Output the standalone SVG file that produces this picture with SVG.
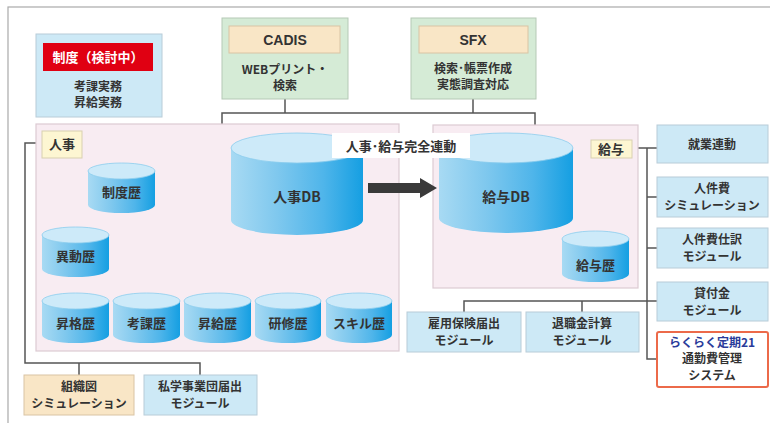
<svg xmlns="http://www.w3.org/2000/svg" width="770" height="423" viewBox="0 0 770 423">
<defs>
<linearGradient id="cyl" x1="0" y1="0" x2="1" y2="0">
<stop offset="0" stop-color="#a8daf3"/>
<stop offset="0.35" stop-color="#7fc8ee"/>
<stop offset="0.7" stop-color="#4fb5ea"/>
<stop offset="1" stop-color="#159fe2"/>
</linearGradient>
<style>
text{font-family:"Noto Sans CJK JP","Noto Sans",sans-serif;font-weight:bold;fill:#333;text-anchor:middle;font-size:12px}
.blue{fill:#cde9f6;stroke:#b8ccd8;stroke-width:1}
.green{fill:#d5ebd6;stroke:#b5c9b6;stroke-width:1}
.orange{fill:#f9e6c6;stroke:#d9c4a4;stroke-width:1}
.frame{fill:#f8ecf2;stroke:#dccbd3;stroke-width:1.2}
.lbl{fill:#fdf6d2;stroke:#d8d0b0;stroke-width:1}
.body{fill:url(#cyl)}
.top{fill:#cdeaf9;stroke:#8ccdee;stroke-width:0.8}
.ln{fill:none;stroke:#555;stroke-width:1.5}
</style>
</defs>
<rect x="8" y="7" width="780" height="430" fill="#fff" stroke="#aaa" stroke-width="1.2"/>

<g id="connectors">
<path class="ln" d="M285,99 V113 M473,99 V113 M222,124 V113 H535 V125"/>
<path class="ln" d="M42,143 H25 V363 H200 V375 M79,363 V375"/>
<path class="ln" d="M632,148 H657 M647,148 V359 H657 M647,197 H657 M647,248 H657 M464,312 V301 H657 M582,301 V312"/>
</g>

<g id="seido">
<rect class="blue" x="36" y="34" width="126" height="83"/>
<rect x="43" y="43" width="110" height="28" fill="#e00012"/>
<text x="98" y="62" style="fill:#fff;font-size:13px">制度（検討中）</text>
<text x="98" y="91">考課実務</text>
<text x="98" y="107">昇給実務</text>
</g>

<g id="cadis">
<rect class="green" x="222" y="18" width="126" height="81"/>
<rect class="orange" x="229" y="26" width="111" height="27"/>
<text x="285" y="45" style="font-family:'Liberation Sans',sans-serif;font-size:14px">CADIS</text>
<text x="285" y="74">WEBプリント・</text>
<text x="285" y="90">検索</text>
</g>

<g id="sfx">
<rect class="green" x="411" y="18" width="125" height="81"/>
<rect class="orange" x="419" y="26" width="109" height="27"/>
<text x="473" y="45" style="font-family:'Liberation Sans',sans-serif;font-size:14px">SFX</text>
<text x="473" y="73">検索･帳票作成</text>
<text x="473" y="89">実態調査対応</text>
</g>

<g id="jinji">
<rect class="frame" x="36" y="124" width="363" height="227"/>
<rect class="lbl" x="42" y="131" width="40" height="27"/>
<text x="62" y="149" style="font-size:13px">人事</text>
</g>

<g id="kyuyo">
<rect class="frame" x="433" y="125" width="205" height="163"/>
<rect class="lbl" x="591" y="140" width="41" height="18"/>
<text x="611" y="154" style="font-size:13px">給与</text>
</g>

<g id="jinjidb">
<path class="body" d="M231,148 V220 A66,15 0 0 0 363,220 V148 Z"/>
<ellipse class="top" cx="297" cy="148" rx="66" ry="15"/>
<text x="297" y="202" style="font-size:14px">人事DB</text>
</g>

<g id="kyuyodb">
<path class="body" d="M439,148 V218 A67,15 0 0 0 573,218 V148 Z"/>
<ellipse class="top" cx="506" cy="148" rx="67" ry="15"/>
<text x="506" y="202" style="font-size:14px">給与DB</text>
</g>

<g id="arrow">
<path d="M368,183 H420 V178 L437,188 L420,198 V193 H368 Z" fill="#3a3a3a"/>
</g>

<g id="renkei">
<rect x="332" y="133" width="138" height="25" fill="#fff"/>
<text x="401" y="151" style="font-size:13px">人事･給与完全連動</text>
</g>

<g id="seidoreki">
<path class="body" d="M88,171 V205 A33.5,8 0 0 0 155,205 V171 Z"/>
<ellipse class="top" cx="121.5" cy="171" rx="33.5" ry="8"/>
<text x="121.5" y="197" style="font-size:13px">制度歴</text>
</g>
<g id="idoreki">
<path class="body" d="M42,235 V269 A33.5,8 0 0 0 109,269 V235 Z"/>
<ellipse class="top" cx="75.5" cy="235" rx="33.5" ry="8"/>
<text x="75.5" y="261" style="font-size:13px">異動歴</text>
</g>
<g id="shokakureki">
<path class="body" d="M42,301 V335 A33.5,8 0 0 0 109,335 V301 Z"/>
<ellipse class="top" cx="75.5" cy="301" rx="33.5" ry="8"/>
<text x="75.5" y="328" style="font-size:13px">昇格歴</text>
</g>
<g id="kokareki">
<path class="body" d="M113,301 V335 A33.5,8 0 0 0 180,335 V301 Z"/>
<ellipse class="top" cx="146.5" cy="301" rx="33.5" ry="8"/>
<text x="146.5" y="328" style="font-size:13px">考課歴</text>
</g>
<g id="shokyureki">
<path class="body" d="M184,301 V335 A33.5,8 0 0 0 251,335 V301 Z"/>
<ellipse class="top" cx="217.5" cy="301" rx="33.5" ry="8"/>
<text x="217.5" y="328" style="font-size:13px">昇給歴</text>
</g>
<g id="kenshureki">
<path class="body" d="M255,301 V335 A33,8 0 0 0 321,335 V301 Z"/>
<ellipse class="top" cx="288" cy="301" rx="33" ry="8"/>
<text x="288" y="328" style="font-size:13px">研修歴</text>
</g>
<g id="skillreki">
<path class="body" d="M326,301 V335 A33,8 0 0 0 392,335 V301 Z"/>
<ellipse class="top" cx="359" cy="301" rx="33" ry="8"/>
<text x="359" y="328" style="font-size:13px">スキル歴</text>
</g>
<g id="kyuyoreki">
<path class="body" d="M562,239 V274 A33.5,8 0 0 0 629,274 V239 Z"/>
<ellipse class="top" cx="595.5" cy="239" rx="33.5" ry="8"/>
<text x="595.5" y="270" style="font-size:13px">給与歴</text>
</g>

<g id="soshikizu">
<rect class="orange" x="24" y="375" width="110" height="40"/>
<text x="79" y="391">組織図</text>
<text x="79" y="408">シミュレーション</text>
</g>
<g id="shigaku">
<rect class="blue" x="144" y="375" width="113" height="40"/>
<text x="200" y="391">私学事業団届出</text>
<text x="200" y="408">モジュール</text>
</g>
<g id="koyo">
<rect class="blue" x="407" y="312" width="114" height="40"/>
<text x="464" y="328">雇用保険届出</text>
<text x="464" y="345">モジュール</text>
</g>
<g id="taishoku">
<rect class="blue" x="526" y="312" width="113" height="40"/>
<text x="582" y="328">退職金計算</text>
<text x="582" y="345">モジュール</text>
</g>
<g id="shugyo">
<rect class="blue" x="657" y="125" width="111" height="38"/>
<text x="712" y="149">就業連動</text>
</g>
<g id="jinkenhi">
<rect class="blue" x="657" y="177" width="111" height="40"/>
<text x="712" y="193">人件費</text>
<text x="712" y="210">シミュレーション</text>
</g>
<g id="shiwake">
<rect class="blue" x="657" y="228" width="111" height="40"/>
<text x="712" y="244">人件費仕訳</text>
<text x="712" y="261">モジュール</text>
</g>
<g id="kashitsuke">
<rect class="blue" x="657" y="282" width="111" height="39"/>
<text x="712" y="298">貸付金</text>
<text x="712" y="315">モジュール</text>
</g>
<g id="rakuraku">
<rect x="657" y="332" width="111" height="55" fill="#fff" stroke="#ec6a4a" stroke-width="2" rx="2"/>
<text x="712" y="347" style="fill:#2a3b9a">らくらく定期21</text>
<text x="712" y="363">通勤費管理</text>
<text x="712" y="380">システム</text>
</g>
</svg>
